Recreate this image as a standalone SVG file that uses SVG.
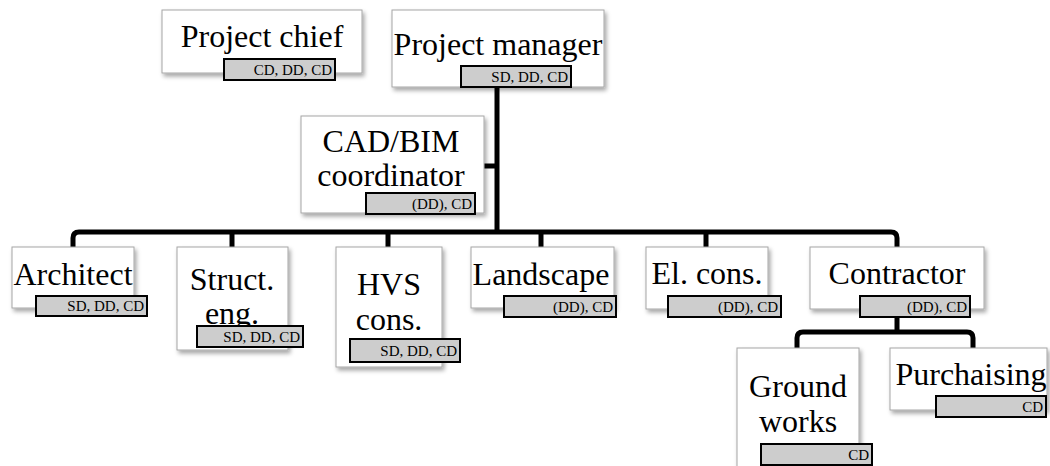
<svg xmlns="http://www.w3.org/2000/svg" width="1050" height="466" viewBox="0 0 1050 466">
  <style>
    .box { fill: #ffffff; stroke: #a6a6a6; stroke-width: 1; filter: url(#shadow); }
    .tag { fill: #cdcdcd; stroke: #000000; stroke-width: 2; }
    .name { font-family: 'Liberation Serif', 'DejaVu Serif', serif; font-size: 32px; fill: #000000; text-anchor: middle; }
    .phase { font-family: 'Liberation Serif', 'DejaVu Serif', serif; font-size: 15px; fill: #000000; text-anchor: end; }
    .link { fill: none; stroke: #000000; stroke-width: 5; stroke-linejoin: round; }
  </style>
  <defs>
    <filter id="shadow" x="-10%" y="-10%" width="125%" height="130%">
      <feDropShadow dx="2" dy="3" stdDeviation="2" flood-color="#000000" flood-opacity="0.35"/>
    </filter>
  </defs>

  <rect width="1050" height="466" fill="#ffffff"/>

  <!-- connectors -->
  <g id="connectors">
    <path class="link" d="M497 87 V232"/>
    <path class="link" d="M484 166 H497"/>
    <path class="link" d="M73 247 V238 Q73 232 79 232 H891 Q897 232 897 238 V247"/>
    <path class="link" d="M232 232 V247"/>
    <path class="link" d="M388 232 V247"/>
    <path class="link" d="M541 232 V247"/>
    <path class="link" d="M706 232 V247"/>
    <path class="link" d="M897 312 V332"/>
    <path class="link" d="M797 348 V338 Q797 332 803 332 H967 Q973 332 973 338 V348"/>
  </g>

  <!-- nodes -->
  <g id="project-chief">
    <rect class="box" x="162" y="10" width="200" height="63"/>
    <text class="name" x="262" y="47">Project chief</text>
    <rect class="tag" x="224" y="59" width="111" height="21"/>
    <text class="phase" x="332" y="75">CD, DD, CD</text>
  </g>

  <g id="project-manager">
    <rect class="box" x="392" y="10" width="212" height="77"/>
    <text class="name" x="498" y="55">Project manager</text>
    <rect class="tag" x="461" y="66" width="110" height="21"/>
    <text class="phase" x="568" y="82">SD, DD, CD</text>
  </g>

  <g id="cad-bim-coordinator">
    <rect class="box" x="301" y="116" width="183" height="97"/>
    <text class="name" x="391" y="152">CAD/BIM</text>
    <text class="name" x="391" y="186">coordinator</text>
    <rect class="tag" x="366" y="193" width="109" height="21"/>
    <text class="phase" x="472" y="209">(DD), CD</text>
  </g>

  <g id="architect">
    <rect class="box" x="12" y="247" width="122" height="61"/>
    <text class="name" x="73" y="285">Architect</text>
    <rect class="tag" x="36" y="296" width="111" height="20"/>
    <text class="phase" x="144" y="311">SD, DD, CD</text>
  </g>

  <g id="structural-engineer">
    <rect class="box" x="177" y="247" width="111" height="103"/>
    <text class="name" x="232" y="290">Struct.</text>
    <text class="name" x="232" y="324">eng.</text>
    <rect class="tag" x="197" y="326" width="106" height="21"/>
    <text class="phase" x="300" y="342">SD, DD, CD</text>
  </g>

  <g id="hvs-consultant">
    <rect class="box" x="336" y="247" width="106" height="120"/>
    <text class="name" x="389" y="295">HVS</text>
    <text class="name" x="389" y="330">cons.</text>
    <rect class="tag" x="350" y="339" width="110" height="23"/>
    <text class="phase" x="457" y="356">SD, DD, CD</text>
  </g>

  <g id="landscape">
    <rect class="box" x="471" y="247" width="143" height="61"/>
    <text class="name" x="541" y="285">Landscape</text>
    <rect class="tag" x="504" y="296" width="112" height="21"/>
    <text class="phase" x="613" y="312">(DD), CD</text>
  </g>

  <g id="electrical-consultant">
    <rect class="box" x="646" y="247" width="122" height="62"/>
    <text class="name" x="707" y="284">El. cons.</text>
    <rect class="tag" x="668" y="296" width="113" height="21"/>
    <text class="phase" x="778" y="312">(DD), CD</text>
  </g>

  <g id="contractor">
    <rect class="box" x="810" y="247" width="174" height="62"/>
    <text class="name" x="897" y="284">Contractor</text>
    <rect class="tag" x="860" y="296" width="110" height="21"/>
    <text class="phase" x="967" y="312">(DD), CD</text>
  </g>

  <g id="ground-works">
    <rect class="box" x="737" y="348" width="122" height="122"/>
    <text class="name" x="798" y="397">Ground</text>
    <text class="name" x="798" y="432">works</text>
    <rect class="tag" x="761" y="444" width="111" height="21"/>
    <text class="phase" x="869" y="460">CD</text>
  </g>

  <g id="purchasing">
    <rect class="box" x="890" y="348" width="157" height="62"/>
    <text class="name" x="971" y="385">Purchaising</text>
    <rect class="tag" x="936" y="396" width="110" height="21"/>
    <text class="phase" x="1043" y="412">CD</text>
  </g>
</svg>
